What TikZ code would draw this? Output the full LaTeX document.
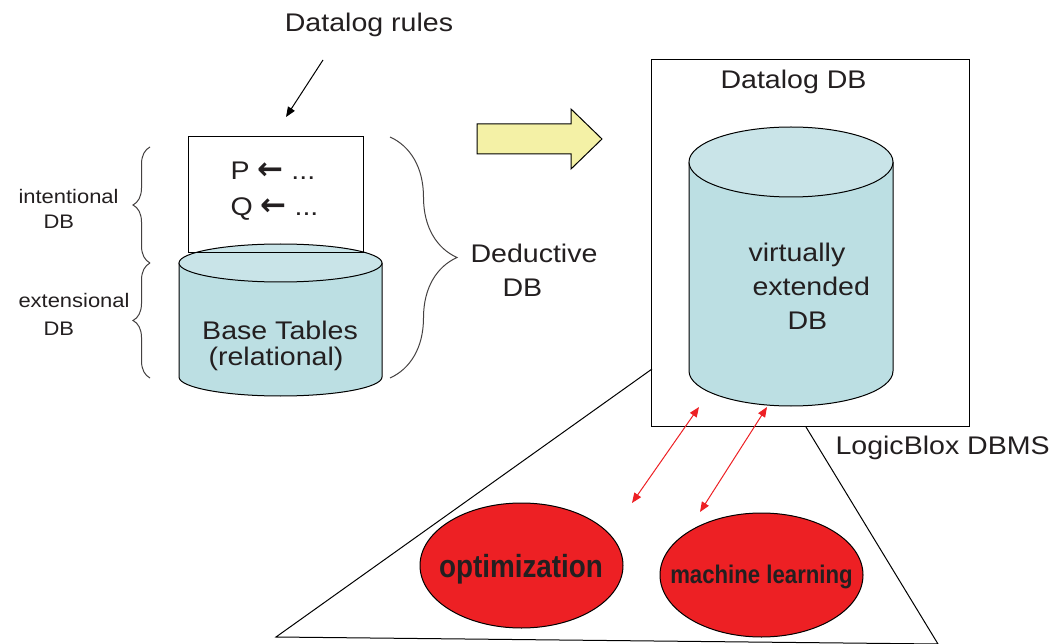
\documentclass[tikz,border=0pt]{standalone}
\usepackage{fontspec}
\setmainfont{Liberation Sans}[FakeStretch=1.12]
\newfontfamily\condbold{Liberation Sans}[FakeStretch=0.87]
\newfontfamily\arrowfont{DejaVu Sans}
\usetikzlibrary{arrows.meta,decorations.pathreplacing,shapes.geometric}
\definecolor{cylbody}{HTML}{BCDFE3}
\definecolor{cyltop}{HTML}{C9E4E8}
\definecolor{yel}{HTML}{F4F1A6}
\definecolor{redfill}{HTML}{ED2024}
\definecolor{txt}{HTML}{231F20}
\newcommand{\larr}{{\arrowfont\bfseries\fontsize{31}{30}\selectfont\char"2190}}
\begin{document}
\begin{tikzpicture}[x=1pt,y=-1pt,line width=1pt,
  lbl/.style={text=txt,font=\fontsize{25.5}{30}\selectfont,inner sep=0pt},
  small/.style={text=txt,font=\fontsize{19.6}{24}\selectfont,inner sep=0pt},
  boldbig/.style={text=txt,font=\condbold\bfseries\fontsize{32}{36}\selectfont,inner sep=0pt},
  boldsmall/.style={text=txt,font=\condbold\bfseries\fontsize{25.5}{30}\selectfont,inner sep=0pt},
  bracepath/.style={draw=txt!85,line width=1pt,decorate},
  redarrow/.style={draw=redfill,line width=1pt,{Triangle[length=10pt,width=8pt]}-{Triangle[length=10pt,width=8pt]}},
  redell/.style={draw=black,fill=redfill,line width=1pt,ellipse},
]
\useasboundingbox (0,0) rectangle (1052,644);

% ---- triangle (LogicBlox zoom) ----
\coordinate (triL) at (652,369);
\coordinate (triBL) at (276,637);
\coordinate (triBR) at (938,644);
\coordinate (triR) at (806,427);
\draw[black] (triL) -- (triBL) -- (triBR) -- (triR);

% ---- left cylinder ----
\fill[cylbody] (179,263) -- (179,377) arc[start angle=180,end angle=0,x radius=101.5,y radius=19] -- (382,263) -- cycle;
\draw (179,263) -- (179,377) arc[start angle=180,end angle=0,x radius=101.5,y radius=19] -- (382,263);
\draw[fill=cyltop] (280.5,263) ellipse[x radius=101.5,y radius=19];

% ---- rules box ----
\node[draw,minimum width=175,minimum height=116,inner sep=0pt] (rules) at (275.5,195) {};
\node[lbl,anchor=base west] (prule) at (230,180) {P \larr\ ...};
\node[lbl,anchor=base west] (qrule) at (230,216) {Q \larr\ ...};

\node[lbl,anchor=base] (base1) at (280,339) {Base Tables};
\node[lbl,anchor=base] (base2) at (276,365) {(relational)};

% ---- Datalog rules label and arrow ----
\node[lbl,anchor=base] (dlrules) at (369,32) {Datalog rules};
\coordinate (rulesArrowStart) at (323,60);
\coordinate (rulesArrowEnd) at (286,117);
\draw[-{Triangle[length=10pt,width=8pt]}] (rulesArrowStart) -- (rulesArrowEnd);

% ---- braces ----
\coordinate (b1a) at (150,263);
\coordinate (b1b) at (150,147);
\coordinate (b2a) at (150,378);
\coordinate (b2b) at (150,263);
\draw[bracepath,decoration={brace,amplitude=17pt}] (b1a) -- (b1b);
\draw[bracepath,decoration={brace,amplitude=17pt}] (b2a) -- (b2b);
\coordinate (b3a) at (390,137);
\coordinate (b3b) at (390,378);
\draw[bracepath,decoration={brace,amplitude=67pt}] (b3a) -- (b3b);

\node[small,anchor=base west] (intl) at (18,204) {intentional};
\node[small,anchor=base west] (intl2) at (43,229) {DB};
\node[small,anchor=base west] (extl) at (18,308) {extensional};
\node[small,anchor=base west] (extl2) at (43,335) {DB};

\node[lbl,anchor=base west] (ded1) at (470,263) {Deductive};
\node[lbl,anchor=base west] (ded2) at (502,297) {DB};

% ---- yellow arrow ----
\draw[fill=yel] (477,124) -- (571,124) -- (571,109) -- (602,139) -- (571,169) -- (571,154) -- (477,154) -- cycle;

% ---- Datalog DB box ----
\node[draw,minimum width=318,minimum height=366,inner sep=0pt] (dbbox) at (810,243) {};
\node[lbl,anchor=base west] (dbtitle) at (720,89) {Datalog DB};

% ---- right cylinder ----
\fill[cylbody] (689,162) -- (689,371) arc[start angle=180,end angle=0,x radius=102,y radius=35] -- (893,162) -- cycle;
\draw (689,162) -- (689,371) arc[start angle=180,end angle=0,x radius=102,y radius=35] -- (893,162);
\draw[fill=cyltop] (791,162) ellipse[x radius=102,y radius=35];

\node[lbl,anchor=base west] (v1) at (748,262) {virtually};
\node[lbl,anchor=base west] (v2) at (752,295) {extended};
\node[lbl,anchor=base west] (v3) at (787,330) {DB};

\node[lbl,anchor=base west] (lbdbms) at (835,454) {LogicBlox DBMS};

% ---- red ellipses ----
\node[redell,minimum width=203,minimum height=125,inner sep=0pt] (opt) at (521.5,565.5) {};
\node[boldbig,anchor=base] (optt) at (521,577) {optimization};
\node[redell,minimum width=203,minimum height=124,inner sep=0pt] (ml) at (761.5,575) {};
\node[boldsmall,anchor=base] (mlt) at (761.5,583) {machine learning};

% ---- red arrows ----
\coordinate (ra1a) at (632,503);
\coordinate (ra1b) at (699,407);
\coordinate (ra2a) at (700,512);
\coordinate (ra2b) at (767,407);
\draw[redarrow] (ra1a) -- (ra1b);
\draw[redarrow] (ra2a) -- (ra2b);
\end{tikzpicture}
\end{document}
